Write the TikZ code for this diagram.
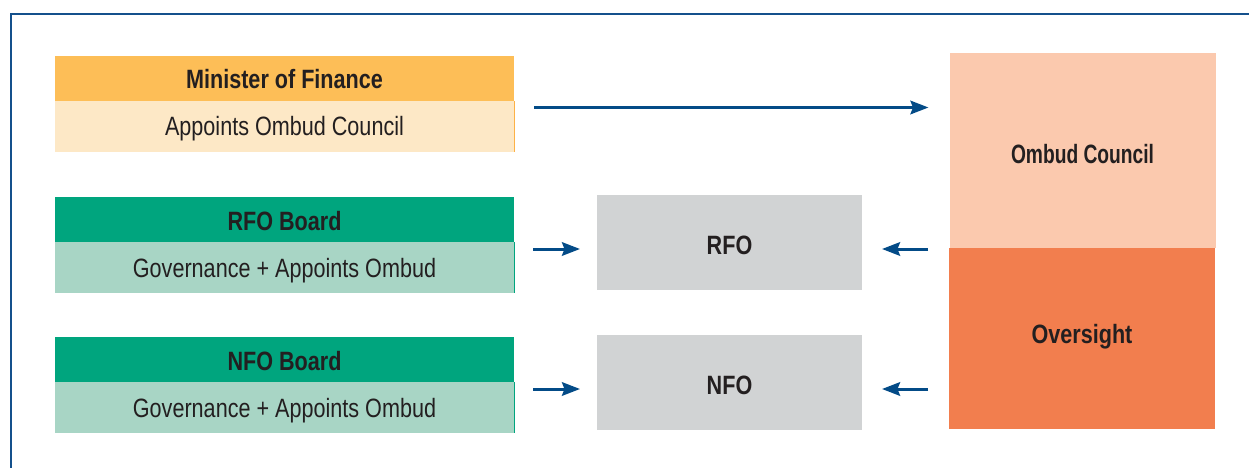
\documentclass[tikz,border=0pt]{standalone}
\usepackage{fontspec}
\setmainfont{Liberation Sans}[FakeStretch=0.815]
\usetikzlibrary{arrows.meta,calc}
\definecolor{frameblue}{RGB}{20,80,140}
\definecolor{arrblue}{RGB}{3,75,135}
\definecolor{minheadc}{RGB}{253,190,87}
\definecolor{minbodyc}{RGB}{253,232,198}
\definecolor{greenheadc}{RGB}{0,165,126}
\definecolor{greenbodyc}{RGB}{168,213,197}
\definecolor{grayc}{RGB}{209,211,212}
\definecolor{ombudc}{RGB}{251,201,174}
\definecolor{overc}{RGB}{242,126,78}
\definecolor{txtc}{RGB}{35,31,32}
\newcommand{\lowr}[2]{\raisebox{-#1pt}{#2}}
\tikzset{
  basebox/.style={rectangle, inner sep=0pt, outer sep=0pt, text=txtc,
    text height=19pt, text depth=0pt,
    font=\fontsize{26.5}{30}\selectfont},
  headbox/.style={basebox, minimum width=459pt, minimum height=45pt,
    font=\fontsize{26.5}{30}\selectfont\bfseries},
  bodybox/.style={basebox, minimum width=459pt, minimum height=51pt},
  orgbox/.style={basebox, fill=grayc, minimum width=265pt, minimum height=95pt,
    font=\fontsize{26.5}{30}\selectfont\bfseries},
  bigbox/.style={basebox, minimum width=266pt,
    font=\fontsize{26.5}{30}\selectfont\bfseries},
  arr/.style={draw=arrblue, line width=3pt,
    -{Stealth[length=18pt,width=13.5pt,inset=2.5pt]}},
}
\begin{document}
\begin{tikzpicture}[x=1pt,y=-1pt]
\useasboundingbox (0,0) rectangle (1249,468);
% frame
\draw[frameblue, line width=1.8pt] (11,469) -- (11,14) -- (1250,14);
% left column
\node[headbox, fill=minheadc] (minhead) at (284.5,78.5) {\lowr{0.5}{Minister of Finance}};
\node[bodybox, fill=minbodyc] (minbody) at (284.5,126.5) {\lowr{-0.5}{Appoints Ombud Council}};
\node[headbox, fill=greenheadc] (rfohead) at (284.5,219.5) {\lowr{1.3}{RFO Board}};
\node[bodybox, fill=greenbodyc] (rfobody) at (284.5,267.5) {\lowr{0.8}{Governance + Appoints Ombud}};
\node[headbox, fill=greenheadc] (nfohead) at (284.5,359.5) {\lowr{1.3}{NFO Board}};
\node[bodybox, fill=greenbodyc] (nfobody) at (284.5,407.5) {\lowr{0.8}{Governance + Appoints Ombud}};
\draw[minheadc!80!orange, line width=1pt] (minbody.north east) -- (minbody.south east);
\draw[greenheadc, line width=1pt] (rfobody.north east) -- (rfobody.south east);
\draw[greenheadc, line width=1pt] (nfobody.north east) -- (nfobody.south east);
% middle column
\node[orgbox] (rfo) at (729.5,242.5) {\lowr{2}{RFO}};
\node[orgbox] (nfo) at (729.5,382.5) {\lowr{2}{NFO}};
% right column
\node[bigbox, fill=ombudc, minimum height=195pt] (ombud) at (1082.5,150.5)
  {\lowr{3.5}{\addfontfeature{FakeStretch=0.725}Ombud Council}};
\node[bigbox, fill=overc, minimum height=181pt] (over) at (1082,338.5) {\lowr{-4.5}{Oversight}};
% connectors
\draw[arr] ([xshift=20pt,yshift=-6.5pt]minbody.north east)
  -- ([xshift=-21pt,yshift=-6.5pt]minbody.north east -| ombud.west);
\draw[arr] ([xshift=19pt,yshift=-7pt]rfobody.north east)
  -- ([xshift=-17pt,yshift=-7pt]rfobody.north east -| rfo.west);
\draw[arr] ([xshift=19pt,yshift=-7pt]nfobody.north east)
  -- ([xshift=-17pt,yshift=-7pt]nfobody.north east -| nfo.west);
\draw[arr] ([xshift=-21pt,yshift=-7pt]rfobody.north east -| over.west)
  -- ([xshift=20pt,yshift=-7pt]rfobody.north east -| rfo.east);
\draw[arr] ([xshift=-21pt,yshift=-7pt]nfobody.north east -| over.west)
  -- ([xshift=20pt,yshift=-7pt]nfobody.north east -| nfo.east);
\end{tikzpicture}
\end{document}
